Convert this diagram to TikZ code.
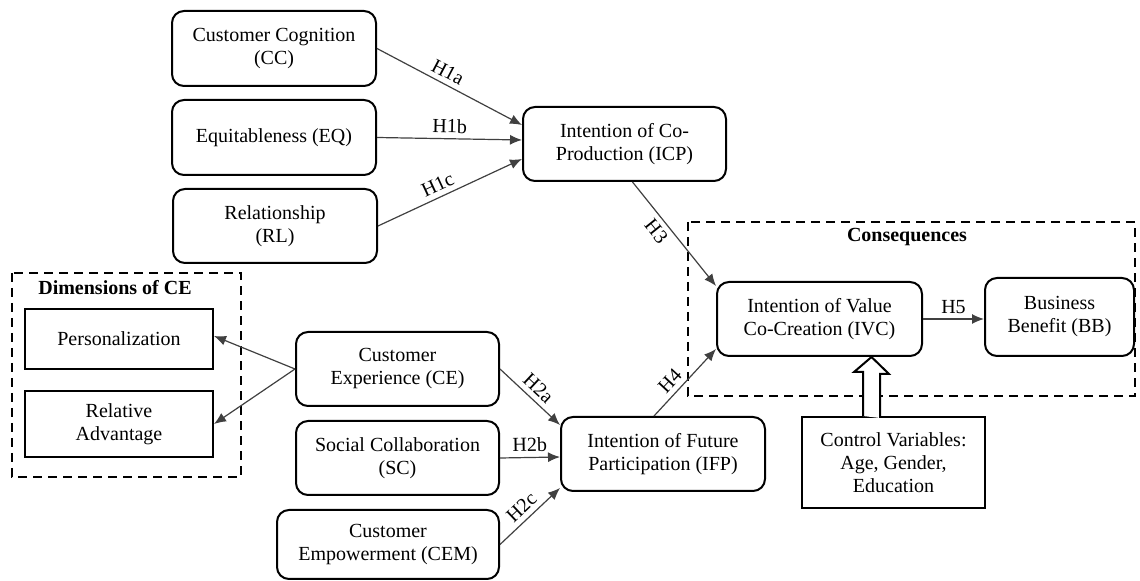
\documentclass[tikz,border=0pt]{standalone}
\usepackage{fontspec}
\setmainfont{Liberation Serif}
\usepackage{tikz}
\usetikzlibrary{arrows.meta, calc}

\begin{document}
\begin{tikzpicture}[x = 0.5pt, y = -0.5pt,
        every node/.style = {font = \fontsize{10}{11.5}\selectfont, align = center},
        roundbox/.style = {rectangle, draw, line width = 1pt, rounded corners = 6pt, minimum width = 102pt, minimum height = 37pt},
        plainbox/.style = {rectangle, draw, line width = 1pt, minimum width = 94pt},
        link/.style = {draw = black!75, line width = 0.6pt, -{Latex[length = 6pt, width = 5pt]}},
        hyp/.style = {sloped, above, inner sep = 2.5pt},
        grouping/.style = {draw, line width = 0.9pt, dash pattern = on 4.5pt off 3pt},
        hollow/.style = {draw, line width = 1pt, fill = white}]
        \useasboundingbox (0,0) rectangle (1140,581);

        \draw [grouping] (12,273) rectangle (241,477);
        \draw [grouping] (688,222) rectangle (1135,396);
        \node (dimtitle) at (115,288) {\textbf{Dimensions of CE}};
        \node (contitle) at (907,237) {\textbf{Consequences}};

        \node (cc) [roundbox, minimum height = 37.5pt] at (274,48.5) {Customer Cognition\\(CC)};
        \node (eq) [roundbox, minimum height = 37.5pt] at (274,137.5) {Equitableness (EQ)};
        \node (rl) [roundbox] at (275,226) {Relationship\\(RL)};
        \node (icp) [roundbox, minimum width = 101.5pt] at (624.5,144) {Intention of Co-\\Production (ICP)};

        \node (pers) [plainbox, minimum height = 30pt] at (119,339) {Personalization};
        \node (radv) [plainbox, minimum height = 33pt] at (119,424) {Relative\\Advantage};

        \node (ce) [roundbox, minimum width = 101.5pt] at (397.5,369) {Customer\\Experience (CE)};
        \node (sc) [roundbox, minimum width = 101.5pt] at (397.5,458) {Social Collaboration\\(SC)};
        \node (cem) [roundbox, minimum width = 111pt, minimum height = 34.5pt] at (388,544.5) {Customer\\Empowerment (CEM)};
        \node (ifp) [roundbox] at (663,454) {Intention of Future\\Participation (IFP)};

        \node (ivc) [roundbox, minimum width = 102.5pt] at (819.5,319) {Intention of Value\\Co-Creation (IVC)};
        \node (bb) [roundbox, minimum width = 74.5pt, minimum height = 39pt] at (1059.5,317) {Business\\Benefit (BB)};
        \node (ctrl) [plainbox, minimum width = 91.5pt, minimum height = 45.5pt] at (893.5,462.5) {Control Variables:\\Age, Gender,\\Education};

        \draw [link] (cc.east) -- node [hyp, pos = 0.45] {H1a} ($(icp.west)+(0,-19)$);
        \draw [link] (eq.east) -- node [hyp] {H1b} ($(icp.west)+(0,-4)$);
        \draw [link] (rl.east) -- node [hyp, pos = 0.45] {H1c} ($(icp.west)+(0,15)$);

        \draw [link] (ce.west) -- ($(pers.east)+(0,-3)$);
        \draw [link] (ce.west) -- (radv.east);

        \draw [link] (ce.east) -- node [hyp] {H2a} ($(ifp.west)+(0,-29)$);
        \draw [link] (sc.east) -- node [hyp] {H2b} ($(ifp.west)+(0,3)$);
        \draw [link] (cem.east) -- node [hyp] {H2c} ($(ifp.west)+(0,34)$);

        \draw [link] ($(icp.south)+(8,0)$) -- node [sloped, below, inner sep = 2.5pt, pos = 0.4] {H3} ($(ivc.north west)+(0,5)$);
        \draw [link] ($(ifp.north)+(-9,0)$) -- node [hyp, pos = 0.4] {H4} ($(ivc.south west)+(0,-8)$);
        \draw [link] (ivc.east) -- node [hyp] {H5} (ivc.east -| bb.west);

        \coordinate (cvtop) at ($(ctrl.north)+(-22,0)$);
        \draw [hollow] (cvtop) ++(-8.5,0) -- ++(0,-44) -- ++(-9,0) -- (cvtop |- ivc.south) -- ++(17.5,17) -- ++(-9,0) -- ++(0,44);
\end{tikzpicture}
\end{document}
